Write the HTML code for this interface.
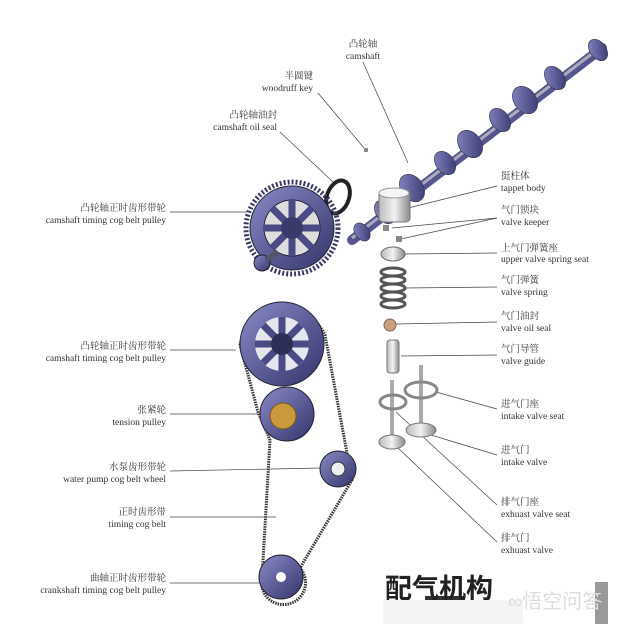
<!DOCTYPE html>
<html><head><meta charset="utf-8"><style>
body{margin:0;background:#fff}
svg{display:block}
text{font-family:"Liberation Serif","Noto Serif CJK SC",serif;font-size:9.5px;fill:#333}
</style></head><body>
<svg width="636" height="624" viewBox="0 0 636 624" xmlns="http://www.w3.org/2000/svg">
<defs>
<linearGradient id="g" x1="0" y1="0" x2="1" y2="1"><stop offset="0" stop-color="#8a8ac8"/><stop offset="1" stop-color="#34346a"/></linearGradient>
<linearGradient id="s" x1="0" y1="0" x2="1" y2="0"><stop offset="0" stop-color="#bbb"/><stop offset=".5" stop-color="#f2f2f2"/><stop offset="1" stop-color="#888"/></linearGradient>
</defs>
<g stroke="#444" stroke-width="0.7" fill="none">
<line x1="363" y1="62" x2="408" y2="163"/>
<line x1="318" y1="93" x2="364" y2="148"/>
<line x1="280" y1="132" x2="333" y2="182"/>
<line x1="170" y1="212" x2="247" y2="212"/>
<line x1="170" y1="350" x2="236" y2="350"/>
<line x1="170" y1="414" x2="262" y2="414"/>
<line x1="170" y1="471" x2="322" y2="468"/>
<line x1="170" y1="517" x2="276" y2="517"/>
<line x1="170" y1="583" x2="262" y2="583"/>
<line x1="497" y1="186" x2="408" y2="208"/>
<line x1="497" y1="218" x2="392" y2="228"/>
<line x1="497" y1="218" x2="401" y2="239"/>
<line x1="497" y1="253" x2="405" y2="254"/>
<line x1="497" y1="287" x2="405" y2="288"/>
<line x1="497" y1="322" x2="396" y2="324"/>
<line x1="497" y1="355" x2="401" y2="356"/>
<line x1="497" y1="409" x2="436" y2="392"/>
<line x1="497" y1="455" x2="431" y2="435"/>
<line x1="497" y1="505" x2="396" y2="412"/>
<line x1="497" y1="542" x2="397" y2="447"/>
</g>
<!-- camshaft -->
<line x1="352" y1="240" x2="602" y2="48" stroke="#55558f" stroke-width="10" stroke-linecap="round"/>
<line x1="352" y1="238" x2="602" y2="46" stroke="#aab" stroke-width="3"/>
<g fill="url(#g)" stroke="#334" stroke-width=".6">
<ellipse cx="385" cy="212" rx="9" ry="13" transform="rotate(-37 385 212)"/>
<ellipse cx="412" cy="188" rx="11" ry="15" transform="rotate(-37 412 188)"/>
<ellipse cx="445" cy="163" rx="9" ry="13" transform="rotate(-37 445 163)"/>
<ellipse cx="470" cy="144" rx="11" ry="15" transform="rotate(-37 470 144)"/>
<ellipse cx="500" cy="120" rx="9" ry="13" transform="rotate(-37 500 120)"/>
<ellipse cx="525" cy="100" rx="11" ry="15" transform="rotate(-37 525 100)"/>
<ellipse cx="555" cy="78" rx="9" ry="13" transform="rotate(-37 555 78)"/>
<ellipse cx="598" cy="50" rx="8" ry="12" transform="rotate(-37 598 50)"/>
<ellipse cx="362" cy="232" rx="7" ry="10" transform="rotate(-37 362 232)"/>
</g>
<rect x="364" y="148" width="4" height="4" fill="#888"/>
<ellipse cx="338" cy="197" rx="11" ry="17" transform="rotate(20 338 197)" fill="none" stroke="#222" stroke-width="4"/>
<!-- top pulley -->
<circle cx="292" cy="228" r="46" fill="none" stroke="#3a3a6a" stroke-width="5" stroke-dasharray="2 2"/>
<circle cx="292" cy="228" r="42" fill="url(#g)" stroke="#223" stroke-width="1"/>
<circle cx="292" cy="228" r="28" fill="#ddd" stroke="#223"/>
<g stroke="#4a4a85" stroke-width="7"><line x1="292" y1="200" x2="292" y2="256"/><line x1="264" y1="228" x2="320" y2="228"/><line x1="272" y1="208" x2="312" y2="248"/><line x1="312" y1="208" x2="272" y2="248"/></g>
<circle cx="292" cy="228" r="11" fill="#3a3a6a"/>
<circle cx="262" cy="263" r="8" fill="url(#g)" stroke="#223"/>
<line x1="266" y1="260" x2="278" y2="252" stroke="#556" stroke-width="5"/>
<!-- belt -->
<path d="M240 345 A45 45 0 0 1 325 335 L352 480 L300 568 A22 22 0 1 1 262 578 L270 440 L258 412 Z" fill="none" stroke="#333" stroke-width="3" stroke-dasharray="1.5 1"/>
<!-- second pulley -->
<circle cx="282" cy="344" r="42" fill="url(#g)" stroke="#223"/>
<circle cx="282" cy="344" r="27" fill="#e6e6ee"/>
<g stroke="#4a4a85" stroke-width="7"><line x1="282" y1="317" x2="282" y2="371"/><line x1="255" y1="344" x2="309" y2="344"/><line x1="263" y1="325" x2="301" y2="363"/><line x1="301" y1="325" x2="263" y2="363"/></g>
<circle cx="282" cy="344" r="11" fill="#2e2e5a"/>
<!-- tension -->
<circle cx="287" cy="414" r="27" fill="url(#g)" stroke="#223"/>
<circle cx="283" cy="416" r="13" fill="#c99a3a" stroke="#7a5a1a"/>
<!-- water pump -->
<circle cx="338" cy="469" r="18" fill="url(#g)" stroke="#223"/>
<circle cx="338" cy="469" r="7" fill="#eee" stroke="#334"/>
<!-- crank -->
<circle cx="281" cy="577" r="22" fill="url(#g)" stroke="#223"/>
<circle cx="281" cy="577" r="5" fill="#fff"/>
<!-- valve train -->
<rect x="379" y="191" width="31" height="31" rx="4" fill="url(#s)" stroke="#777"/>
<ellipse cx="394" cy="193" rx="15" ry="5" fill="#f5f5f5" stroke="#999"/>
<rect x="383" y="225" width="6" height="6" fill="#888"/><rect x="396" y="236" width="6" height="6" fill="#888"/>
<ellipse cx="393" cy="254" rx="12" ry="7" fill="url(#s)" stroke="#666"/>
<g fill="none" stroke="#555" stroke-width="3"><ellipse cx="393" cy="272" rx="12" ry="4"/><ellipse cx="393" cy="280" rx="12" ry="4"/><ellipse cx="393" cy="288" rx="12" ry="4"/><ellipse cx="393" cy="296" rx="12" ry="4"/><ellipse cx="393" cy="304" rx="12" ry="4"/></g>
<circle cx="390" cy="325" r="6" fill="#c9a07a" stroke="#865"/>
<rect x="387" y="340" width="12" height="33" rx="3" fill="url(#s)" stroke="#777"/>
<rect x="419" y="365" width="4" height="65" fill="#aaa"/>
<ellipse cx="421" cy="390" rx="16" ry="8" fill="none" stroke="#888" stroke-width="3"/>
<ellipse cx="421" cy="430" rx="15" ry="7" fill="url(#s)" stroke="#777"/>
<rect x="390" y="380" width="4" height="62" fill="#aaa"/>
<ellipse cx="393" cy="402" rx="13" ry="7" fill="none" stroke="#888" stroke-width="3"/>
<ellipse cx="392" cy="442" rx="13" ry="7" fill="url(#s)" stroke="#777"/>
<!-- labels -->
<g text-anchor="middle"><text x="363" y="47">凸轮轴</text><text x="363" y="59">camshaft</text></g>
<g text-anchor="end">
<text x="313" y="79">半圆键</text><text x="313" y="91">woodruff key</text>
<text x="277" y="118">凸轮轴油封</text><text x="277" y="130">camshaft oil seal</text>
<text x="166" y="211">凸轮轴正时齿形带轮</text><text x="166" y="223">camshaft timing cog belt pulley</text>
<text x="166" y="349">凸轮轴正时齿形带轮</text><text x="166" y="361">camshaft timing cog belt pulley</text>
<text x="166" y="413">张紧轮</text><text x="166" y="425">tension pulley</text>
<text x="166" y="470">水泵齿形带轮</text><text x="166" y="482">water pump cog belt wheel</text>
<text x="166" y="515">正时齿形带</text><text x="166" y="527">timing cog belt</text>
<text x="166" y="581">曲轴正时齿形带轮</text><text x="166" y="593">crankshaft timing cog belt pulley</text>
</g>
<g>
<text x="501" y="179">挺柱体</text><text x="501" y="191">tappet body</text>
<text x="501" y="213">气门锁块</text><text x="501" y="225">valve keeper</text>
<text x="501" y="251">上气门弹簧座</text><text x="501" y="262">upper valve spring seat</text>
<text x="501" y="283">气门弹簧</text><text x="501" y="295">valve spring</text>
<text x="501" y="319">气门油封</text><text x="501" y="331">valve oil seal</text>
<text x="501" y="352">气门导管</text><text x="501" y="364">valve guide</text>
<text x="501" y="407">进气门座</text><text x="501" y="419">intake valve seat</text>
<text x="501" y="453">进气门</text><text x="501" y="465">intake valve</text>
<text x="501" y="505">排气门座</text><text x="501" y="517">exhuast valve seat</text>
<text x="501" y="541">排气门</text><text x="501" y="553">exhuast valve</text>
</g>
<rect x="425" y="596" width="40" height="6" fill="#333"/>
<text x="385" y="598" style="font-family:'Liberation Sans','Noto Sans CJK SC',sans-serif;font-size:27px;font-weight:bold;fill:#222">配气机构</text>
<rect x="383" y="600" width="140" height="24" fill="#f4f4f4"/>
<rect x="595" y="582" width="13" height="42" fill="#999"/>
<text x="508" y="608" style="font-family:'Liberation Sans','Noto Sans CJK SC',sans-serif;font-size:20px;fill:#ddd">∞悟空问答</text>
</svg>
</body></html>
